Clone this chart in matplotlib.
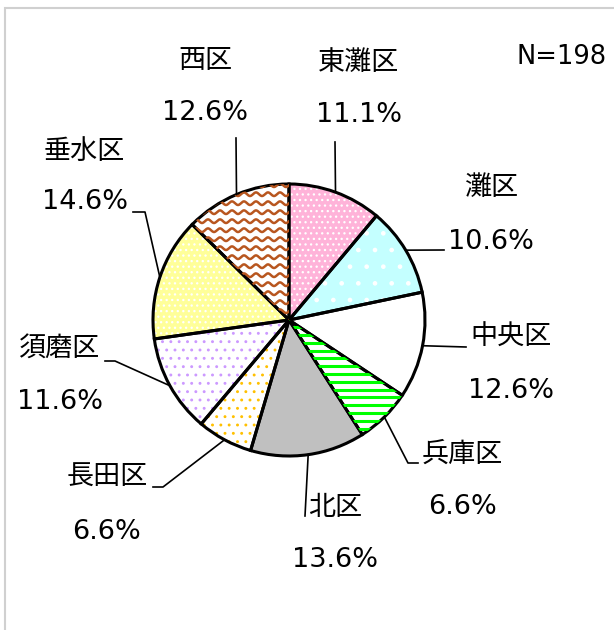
import numpy as np
import matplotlib
matplotlib.use("Agg")
import matplotlib.pyplot as plt
from matplotlib.patches import Rectangle

plt.rcParams['font.family'] = ['DejaVu Sans', 'Noto Sans CJK JP']
plt.rcParams['hatch.linewidth'] = 0.9

# data
districts = ['東灘区', '灘区', '中央区', '兵庫区', '北区', '長田区', '須磨区', '垂水区', '西区']
shares = [11.1, 10.6, 12.6, 6.6, 13.6, 6.6, 11.6, 14.6, 12.6]
n_total = 198

face_colors = ['#ffb3d9', '#c4ffff', '#ffffff', '#ffffff', '#c0c0c0',
               '#ffffff', '#ffffff', '#ffff99', '#ffffff']
hatch_colors = ['#ffffff', '#ffffff', '#ffffff', '#ffffff', '#c0c0c0',
                '#ffc000', '#cc99ff', '#ffffff', '#ffffff']
hatches = ['...', '.', '', '', '', '..', '..', '...', '']

# layout in pixel units (614x630 canvas)
cx, cy, R = 289, 320, 136
name_pos = [(359, 63), (491, 188), (511, 338), (462, 455), (335, 508),
            (107, 478), (59, 350), (84, 152), (205, 61)]
pct_pos = [(359, 115), (491, 242), (511, 391), (462, 507), (335, 560),
           (107, 532), (60, 402), (85, 202), (205, 113)]
leader_pts = [[(335, 142)], [(444, 250)], [(466, 347)], [(408, 463), (418, 463)],
              [(305, 516)], [(163, 487), (153, 487)], [(115, 361), (105, 361)],
              [(145, 212), (133, 212)], [(236, 138)]]


def P(x, y):
    return ((x - cx) / R, (cy - y) / R)


fig = plt.figure(figsize=(6.14, 6.30), dpi=100)
ax = fig.add_axes([0, 0, 1, 1])

wedges, _ = ax.pie(shares, startangle=90, counterclock=False, radius=1,
                   colors=face_colors, hatch=hatches,
                   wedgeprops=dict(linewidth=0))
for w, hc in zip(wedges, hatch_colors):
    w.set_edgecolor(hc)
    w.set_linewidth(0)

# green stripes for 兵庫区
xs = np.array([-1.2, 1.2])
for y0 in np.arange(-1.2, 0.2, 7.8 / R):
    ln, = ax.plot(xs, [y0, y0], color='#00ff00', lw=2.2, solid_capstyle='butt')
    ln.set_clip_path(wedges[3])

# wavy pattern for 西区
xs = np.linspace(-1.2, 0.2, 600)
for y0 in np.arange(-0.2, 1.2, 9.0 / R):
    ln, = ax.plot(xs, y0 + (1.8 / R) * np.sin(2 * np.pi * xs * R / 12.0),
                  color='#b8561f', lw=1.8, solid_capstyle='butt')
    ln.set_clip_path(wedges[-1])

ax.pie(shares, startangle=90, counterclock=False, radius=1,
       wedgeprops=dict(fill=False, edgecolor='black', linewidth=2.2))

# labels and leader lines
ang = 90.0
for i, name in enumerate(districts):
    span = shares[i] / sum(shares) * 360.0
    mid = np.deg2rad(ang - span / 2)
    ang -= span
    px = [np.cos(mid)] + [P(*p)[0] for p in leader_pts[i]]
    py = [np.sin(mid)] + [P(*p)[1] for p in leader_pts[i]]
    ax.plot(px, py, color='black', lw=1.2)
    ax.text(*P(*name_pos[i]), name, fontsize=19.5, ha='center', va='center')
    ax.text(*P(*pct_pos[i]), f'{shares[i]:.1f}%', fontsize=19.5,
            ha='center', va='center')

ax.text(*P(562, 57), f'N={n_total}', fontsize=18.5, ha='center', va='center')

x0, y0 = P(0, 0)
x1, y1 = P(614, 630)
ax.set_xlim(x0, x1)
ax.set_ylim(y1, y0)
ax.set_aspect('equal')
ax.axis('off')

fig.patches.append(Rectangle((5 / 614, -0.1), 2, 1 - 8 / 630 + 0.1,
                             transform=fig.transFigure, fill=False,
                             edgecolor='#d0d0d0', linewidth=1.5))

fig.savefig('out.png', dpi=100)
